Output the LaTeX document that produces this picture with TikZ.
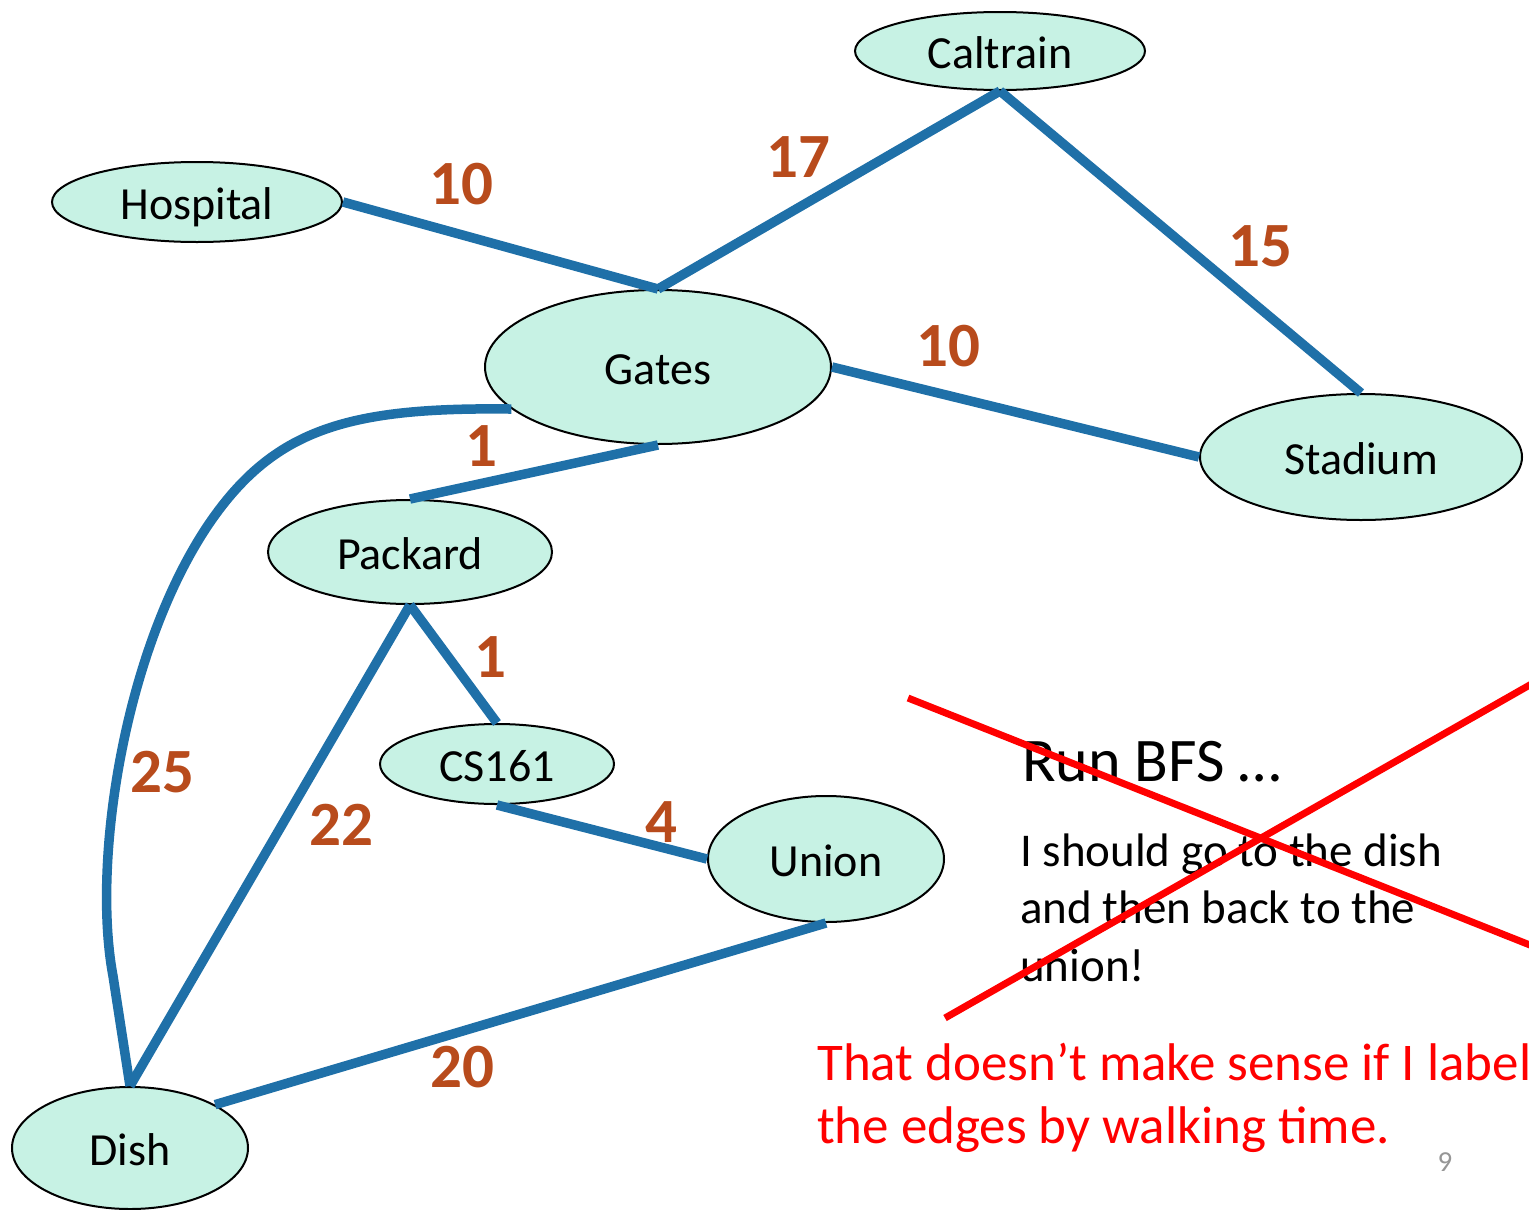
\documentclass[tikz,border=0pt]{standalone}
\usepackage{fontspec}
\setmainfont{Carlito}
\usetikzlibrary{shapes.geometric}
\definecolor{nodefill}{RGB}{199,242,228}
\definecolor{edgeblue}{RGB}{31,112,168}
\definecolor{wbrown}{RGB}{184,75,28}
\definecolor{pgray}{RGB}{150,150,150}
\definecolor{xred}{RGB}{255,0,0}
\begin{document}
\begin{tikzpicture}[x=1pt,y=-1pt,
  place/.style={ellipse, draw=black, line width=2pt, fill=nodefill, inner sep=0pt,
    font=\fontsize{46}{55}\selectfont, text height=34pt, text depth=0pt},
  wlabel/.style={inner sep=0pt, font=\fontsize{63}{70}\selectfont\bfseries,
    text=wbrown, text height=40pt, text depth=0pt},
  road/.style={draw=edgeblue, line width=9.5pt, line cap=butt},
  body/.style={inner sep=0pt, anchor=base west, font=\fontsize{47}{57}\selectfont},
  remark/.style={inner sep=0pt, anchor=base west, text=xred, font=\fontsize{53}{65}\selectfont},
  cross/.style={draw=xred, line width=7pt}]
\useasboundingbox (0,0) rectangle (1529,1210);

% places
\node[place, minimum width=290pt, minimum height=78pt] (cal) at (1000,51) {Caltrain};
\node[place, minimum width=290pt, minimum height=80pt] (hosp) at (197,202) {Hospital};
\node[place, minimum width=346pt, minimum height=154pt] (gates) at (658,367) {Gates};
\node[place, minimum width=322pt, minimum height=126pt] (stad) at (1361,457) {Stadium};
\node[place, minimum width=284pt, minimum height=104pt] (pack) at (410,552) {Packard};
\node[place, minimum width=234pt, minimum height=80pt] (cs) at (497,764) {CS161};
\node[place, minimum width=236pt, minimum height=126pt] (union) at (826,859) {Union};
\node[place, minimum width=236pt, minimum height=122pt] (dish) at (130,1148) {Dish};

% roads
\coordinate (bendA) at (213,518);
\coordinate (bendB) at (113,976);
\draw[road] (hosp.east) -- (gates.north);
\draw[road] (cal.south) -- (gates.north);
\draw[road] (cal.south) -- (stad.north);
\draw[road] (gates.east) -- (stad.west);
\draw[road] (gates.south) -- (pack.north);
\draw[road] (gates.196) .. controls (351,407) and (277,428) .. (bendA)
                        .. controls (126,641) and (91,858) .. (bendB) -- (dish.north);
\draw[road] (pack.south) -- (cs.north);
\draw[road] (pack.south) -- (dish.north);
\draw[road] (cs.south) -- (union.west);
\draw[road] (union.south) -- (dish.27);

% weights
\node[wlabel] (w1) at (461,184) {10};
\node[wlabel] (w2) at (798,157) {17};
\node[wlabel] (w3) at (1260,246) {15};
\node[wlabel] (w4) at (948,346) {10};
\node[wlabel] (w5) at (481,446) {1};
\node[wlabel] (w6) at (490,657) {1};
\node[wlabel] (w7) at (162,772) {25};
\node[wlabel] (w8) at (341,825) {22};
\node[wlabel] (w9) at (661,822) {4};
\node[wlabel] (w10) at (462,1067) {20};

% text
\node[inner sep=0pt, anchor=base west, font=\fontsize{62}{70}\selectfont] (run) at (1022,781) {Run BFS …};
\node[body] (t1) at (1020,866) {I should go to the dish};
\node[body] (t2) at (1020,923) {and then back to the};
\node[body] (t3) at (1020,981) {union!};

% cross
\coordinate (xa1) at (908,698);
\coordinate (xa2) at (1535,947);
\coordinate (xb1) at (945,1018);
\coordinate (xb2) at (1535,682);
\draw[cross] (xa1) -- (xa2);
\draw[cross] (xb1) -- (xb2);

\node[remark] (r1) at (817,1080) {That doesn’t make sense if I label};
\node[remark] (r2) at (817,1143) {the edges by walking time.};
\node[inner sep=0pt, text=pgray, font=\fontsize{29}{32}\selectfont] (pg) at (1445,1162) {9};
\end{tikzpicture}
\end{document}
